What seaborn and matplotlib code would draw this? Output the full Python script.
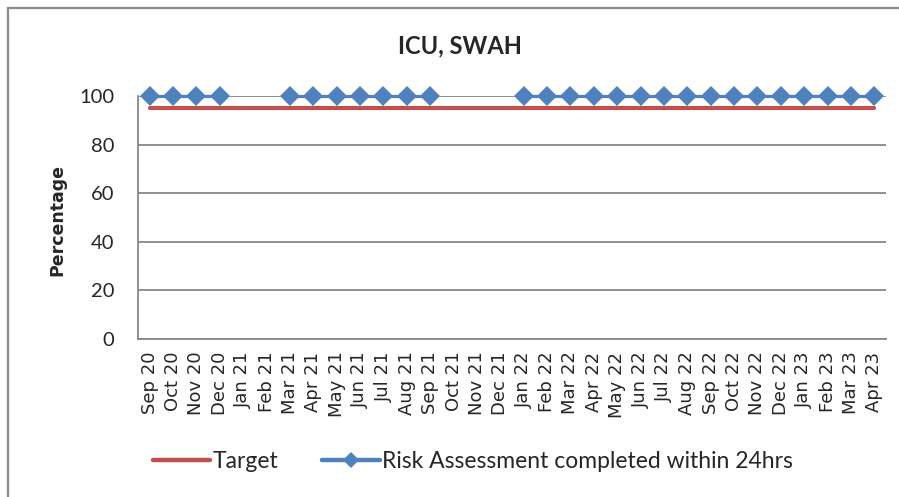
import numpy as np
import pandas as pd
import seaborn as sns
import matplotlib.pyplot as plt
from matplotlib.lines import Line2D
from matplotlib.patches import Rectangle

months = ["Sep 20", "Oct 20", "Nov 20", "Dec 20", "Jan 21", "Feb 21", "Mar 21", "Apr 21",
          "May 21", "Jun 21", "Jul 21", "Aug 21", "Sep 21", "Oct 21", "Nov 21", "Dec 21",
          "Jan 22", "Feb 22", "Mar 22", "Apr 22", "May 22", "Jun 22", "Jul 22", "Aug 22",
          "Sep 22", "Oct 22", "Nov 22", "Dec 22", "Jan 23", "Feb 23", "Mar 23", "Apr 23"]
risk = [100, 100, 100, 100, None, None, 100, 100, 100, 100, 100, 100, 100, None, None, None,
        100, 100, 100, 100, 100, 100, 100, 100, 100, 100, 100, 100, 100, 100, 100, 100]
target = [95] * len(months)

blue = "#4F81BD"
red = "#C0504D"
grey = "#878787"

df = pd.DataFrame({"pos": np.arange(len(months)), "month": months,
                   "risk": pd.to_numeric(pd.Series(risk), errors="coerce"), "target": target})
# split the series into runs so gaps are not bridged
df["seg"] = df["risk"].isna().cumsum()
pts = df.dropna(subset=["risk"])

sns.set_style("white")
plt.rcParams["font.family"] = ["DejaVu Sans"]

fig = plt.figure(figsize=(8.99, 4.97), dpi=100)
ax = fig.add_axes([138 / 899, 1 - 339 / 497, (886 - 138) / 899, (339 - 96) / 497])

# outer chart border (right/bottom edges fall outside the image)
fig.patches.append(Rectangle((8 / 899, -0.5), 1.5, 1.5 - 8 / 497, transform=fig.transFigure,
                             fill=False, edgecolor="#8a8a8a", linewidth=1.6, zorder=0))

sns.lineplot(data=df, x="pos", y="target", color=red, linewidth=3.0,
             solid_capstyle="round", ax=ax, legend=False, zorder=3)
sns.lineplot(data=pts, x="pos", y="risk", units="seg", estimator=None, color=blue,
             linewidth=2.3, marker="D", markersize=10, markeredgewidth=0,
             ax=ax, legend=False, zorder=4, clip_on=False)

ax.set_ylim(0, 100)
ax.set_xlim(-0.5, len(months) - 0.5)
ax.set_yticks(range(0, 101, 20))
ax.yaxis.grid(True, color=grey, linewidth=1.3)
ax.set_axisbelow(True)
for s in ["top", "right"]:
    ax.spines[s].set_visible(False)
for s in ["left", "bottom"]:
    ax.spines[s].set_color(grey)
    ax.spines[s].set_linewidth(1.3)

ax.set_xticks(df["pos"])
ax.set_xticklabels(months, rotation=90, fontsize=13)
ax.set_xticks(np.arange(-0.5, len(months)), minor=True)
ax.tick_params(axis="x", which="major", length=0, pad=9)
ax.tick_params(axis="x", which="minor", length=4.5, color=grey, width=1.3)
ax.tick_params(axis="y", length=6, color=grey, width=1.3, labelsize=14.5, pad=11)
for t in ax.get_yticklabels():
    t.set_family(["Lato", "DejaVu Sans"])

ax.set_xlabel("")
ax.set_ylabel("Percentage", fontsize=12.5, fontweight="bold")
ax.yaxis.set_label_coords((66 - 138) / 748, 0.49)
fig.text(460 / 899, 1 - 46 / 497, "ICU, SWAH", ha="center", va="center",
         fontsize=17, fontweight="bold", family=["Lato", "DejaVu Sans"])

handles = [Line2D([], [], color=red, linewidth=3.2, solid_capstyle="round"),
           Line2D([], [], color=blue, linewidth=3.2, marker="D", markersize=8,
                  markeredgewidth=0)]
fig.legend(handles, ["Target", "Risk Assessment completed within 24hrs"],
           loc="center left", bbox_to_anchor=(153 / 899, 1 - 462 / 497), ncol=2,
           frameon=False, borderpad=0, borderaxespad=0, handlelength=2.5,
           handletextpad=0.12, columnspacing=1.9,
           prop={"family": ["Lato", "DejaVu Sans"], "size": 16.5})

fig.savefig("out.png", dpi=100)
